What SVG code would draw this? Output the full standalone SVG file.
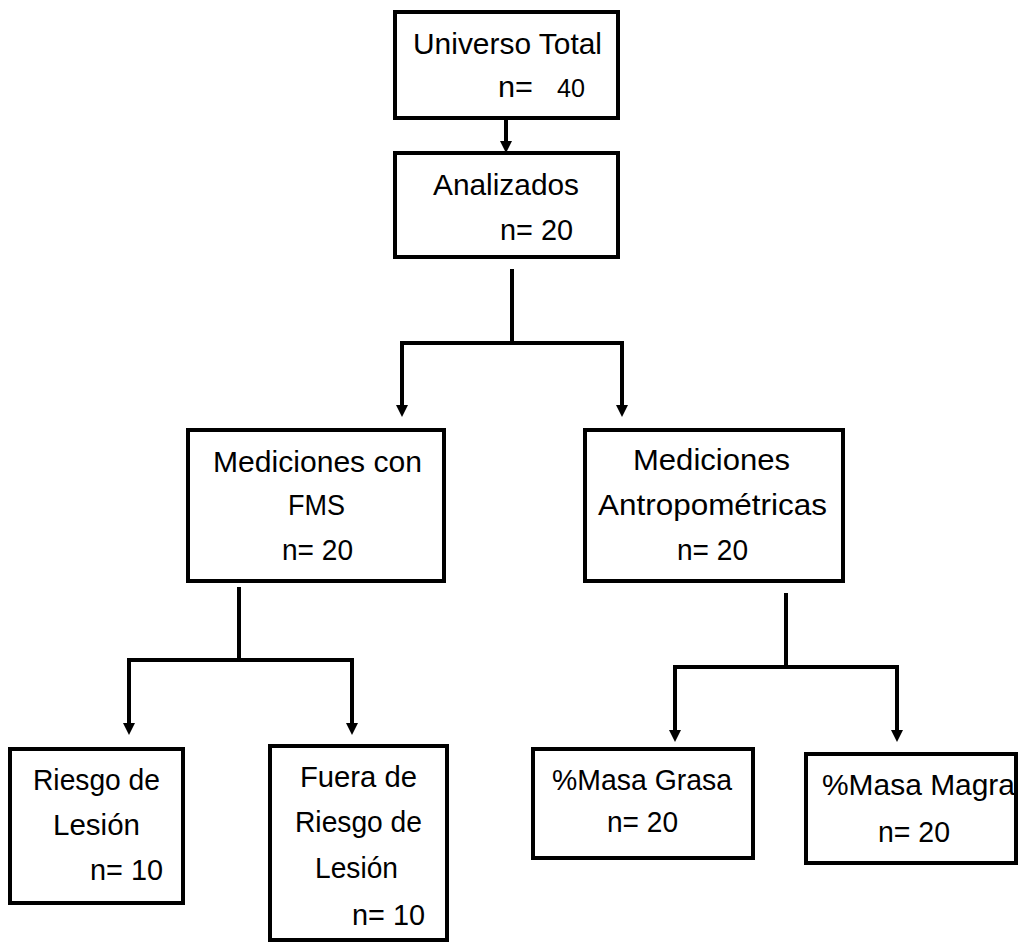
<svg xmlns="http://www.w3.org/2000/svg" width="1018" height="943" viewBox="0 0 1018 943">
<style>
.box{fill:#fff;stroke:#000;stroke-width:4}
.t{font-family:"Liberation Sans",Arial,sans-serif;font-size:29px;fill:#000}
.s{font-size:25px}
.c{fill:none;stroke:#000;stroke-width:4;stroke-linejoin:miter}
</style>
<defs>
<marker id="ah" viewBox="0 0 12 12" refX="0" refY="6" markerWidth="12" markerHeight="12" markerUnits="userSpaceOnUse" orient="auto">
<path d="M0,0 L12,6 L0,12 z" fill="#000"/>
</marker>
</defs>
<rect width="1018" height="943" fill="#fff"/>
<g id="connectors">
<path class="c" d="M506,118 V141" marker-end="url(#ah)"/>
<path class="c" d="M512,269 V344"/>
<path class="c" d="M402,405 V343 H622 V405" />
<path class="c" d="M402,390 V405" marker-end="url(#ah)"/>
<path class="c" d="M622,390 V405" marker-end="url(#ah)"/>
<path class="c" d="M239,587 V660"/>
<path class="c" d="M129,723 V660 H352 V723"/>
<path class="c" d="M129,710 V723" marker-end="url(#ah)"/>
<path class="c" d="M352,710 V723" marker-end="url(#ah)"/>
<path class="c" d="M786,593 V667"/>
<path class="c" d="M675,730 V667 H897 V730"/>
<path class="c" d="M675,715 V730" marker-end="url(#ah)"/>
<path class="c" d="M897,715 V730" marker-end="url(#ah)"/>
</g>
<g id="universo">
<rect class="box" x="395" y="12" width="223" height="106"/>
<text class="t" x="413" y="54" textLength="189" lengthAdjust="spacingAndGlyphs">Universo Total</text>
<text class="t" x="498" y="97" textLength="35" lengthAdjust="spacingAndGlyphs">n=</text>
<text class="t s" x="557" y="97" textLength="28" lengthAdjust="spacingAndGlyphs">40</text>
</g>
<g id="analizados">
<rect class="box" x="395" y="153" width="223" height="104"/>
<text class="t" x="433" y="195" textLength="146" lengthAdjust="spacingAndGlyphs">Analizados</text>
<text class="t" x="500" y="240" textLength="73" lengthAdjust="spacingAndGlyphs">n= 20</text>
</g>
<g id="fms">
<rect class="box" x="188" y="430" width="256" height="151"/>
<text class="t" x="213" y="472" textLength="209" lengthAdjust="spacingAndGlyphs">Mediciones con</text>
<text class="t" x="288" y="515" textLength="57" lengthAdjust="spacingAndGlyphs">FMS</text>
<text class="t" x="282" y="560" textLength="71" lengthAdjust="spacingAndGlyphs">n= 20</text>
</g>
<g id="antropometricas">
<rect class="box" x="585" y="430" width="258" height="151"/>
<text class="t" x="633" y="470" textLength="157" lengthAdjust="spacingAndGlyphs">Mediciones</text>
<text class="t" x="598" y="515" textLength="229" lengthAdjust="spacingAndGlyphs">Antropométricas</text>
<text class="t" x="677" y="560" textLength="71" lengthAdjust="spacingAndGlyphs">n= 20</text>
</g>
<g id="riesgo">
<rect class="box" x="10" y="749" width="173" height="154"/>
<text class="t" x="33" y="790" textLength="127" lengthAdjust="spacingAndGlyphs">Riesgo de</text>
<text class="t" x="53" y="835" textLength="87" lengthAdjust="spacingAndGlyphs">Lesión</text>
<text class="t" x="90" y="880" textLength="73" lengthAdjust="spacingAndGlyphs">n= 10</text>
</g>
<g id="fuera">
<rect class="box" x="270" y="746" width="177" height="194"/>
<text class="t" x="300" y="787" textLength="117" lengthAdjust="spacingAndGlyphs">Fuera de</text>
<text class="t" x="295" y="832" textLength="127" lengthAdjust="spacingAndGlyphs">Riesgo de</text>
<text class="t" x="315" y="878" textLength="83" lengthAdjust="spacingAndGlyphs">Lesión</text>
<text class="t" x="352" y="925" textLength="73" lengthAdjust="spacingAndGlyphs">n= 10</text>
</g>
<g id="grasa">
<rect class="box" x="533" y="749" width="220" height="109"/>
<text class="t" x="552" y="790" textLength="180" lengthAdjust="spacingAndGlyphs">%Masa Grasa</text>
<text class="t" x="607" y="832" textLength="71" lengthAdjust="spacingAndGlyphs">n= 20</text>
</g>
<g id="magra">
<rect class="box" x="806" y="754" width="210" height="109"/>
<text class="t" x="822" y="795" textLength="193" lengthAdjust="spacingAndGlyphs">%Masa Magra</text>
<text class="t" x="878" y="842" textLength="72" lengthAdjust="spacingAndGlyphs">n= 20</text>
</g>
</svg>
